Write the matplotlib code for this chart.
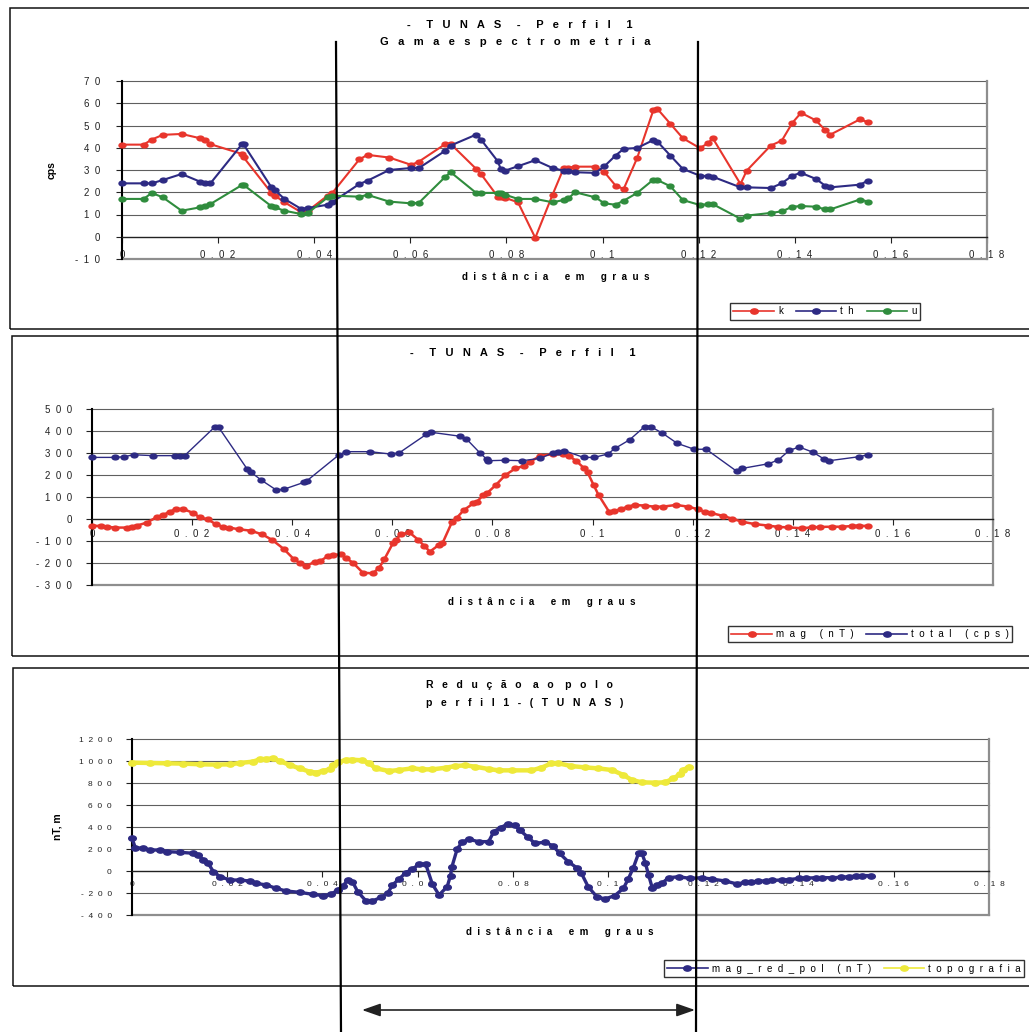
import numpy as np
import matplotlib
matplotlib.use("Agg")
import matplotlib.pyplot as plt
from matplotlib.path import Path
from matplotlib.patches import Rectangle, FancyArrowPatch, ArrowStyle
from matplotlib.lines import Line2D
from matplotlib.ticker import FixedLocator, FuncFormatter

plt.rcParams["font.family"] = ["Liberation Sans", "DejaVu Sans"]

# ---------------- Gamaespectrometria (cps) ----------------
dist_gama = [0.0000, 0.0045, 0.0062, 0.0085, 0.0124, 0.0162, 0.0172, 0.0184, 0.0250, 0.0253,
             0.0311, 0.0318, 0.0338, 0.0373, 0.0387, 0.0428, 0.0437, 0.0494, 0.0511, 0.0556,
             0.0602, 0.0618, 0.0673, 0.0684, 0.0737, 0.0747, 0.0782, 0.0788, 0.0797, 0.0824,
             0.0860, 0.0896, 0.0919, 0.0929, 0.0943, 0.0985, 0.1004, 0.1027, 0.1044, 0.1072,
             0.1106, 0.1114, 0.1141, 0.1167, 0.1202, 0.1220, 0.1229, 0.1287, 0.1300, 0.1350,
             0.1373, 0.1395, 0.1413, 0.1444, 0.1463, 0.1474, 0.1535, 0.1553]
k_cps = [41.4, 41.4, 43.7, 45.8, 46.2, 44.3, 43.7, 41.6, 37.2, 35.7,
         19.7, 18.5, 15.5, 11.0, 11.7, 18.5, 19.5, 34.8, 36.8, 35.6,
         32.3, 33.8, 41.7, 41.7, 30.5, 28.2, 18.0, 17.7, 17.5, 15.5,
         -0.5, 18.9, 30.8, 31.0, 31.5, 31.5, 29.0, 23.0, 21.5, 35.4,
         57.1, 57.5, 50.8, 44.3, 39.9, 42.0, 44.4, 23.7, 29.7, 41.0,
         43.2, 51.2, 55.7, 52.3, 48.0, 45.9, 52.7, 51.5]
th_cps = [24.0, 24.0, 24.0, 25.5, 28.2, 24.8, 24.0, 24.0, 41.7, 41.5,
          22.2, 21.0, 17.0, 12.5, 12.9, 14.4, 15.5, 23.7, 25.2, 30.0,
          30.9, 30.9, 38.7, 41.0, 45.9, 43.7, 33.9, 30.5, 29.7, 31.7,
          34.4, 30.9, 29.7, 29.4, 29.0, 28.7, 31.7, 36.5, 39.5, 39.9,
          43.5, 42.8, 36.5, 30.5, 27.5, 27.2, 27.0, 22.2, 22.2, 21.9,
          24.0, 27.5, 28.7, 26.0, 23.0, 22.2, 23.4, 25.2]
u_cps = [17.0, 17.0, 19.7, 17.7, 11.7, 13.2, 13.7, 14.7, 23.3, 23.3,
         13.7, 13.2, 11.7, 10.2, 10.7, 17.7, 18.5, 18.0, 18.8, 15.8,
         15.0, 15.3, 27.0, 29.0, 19.7, 19.7, 19.7, 19.5, 18.9, 17.0,
         17.0, 15.5, 16.5, 17.3, 20.0, 17.7, 15.0, 14.4, 16.2, 19.7,
         25.7, 25.5, 22.7, 16.5, 14.3, 14.6, 14.7, 8.1, 9.5, 10.7,
         11.4, 13.5, 13.8, 13.5, 12.3, 12.3, 16.7, 15.8]

# ---------------- Magnetometria e contagem total ----------------
dist_total = [0.0000, 0.0046, 0.0064, 0.0083, 0.0122, 0.0165, 0.0175, 0.0185, 0.0246, 0.0253,
              0.0310, 0.0318, 0.0338, 0.0368, 0.0383, 0.0424, 0.0429, 0.0493, 0.0508, 0.0556,
              0.0597, 0.0614, 0.0668, 0.0678, 0.0736, 0.0748, 0.0776, 0.0789, 0.0792, 0.0825,
              0.0860, 0.0896, 0.0920, 0.0930, 0.0943, 0.0982, 0.1003, 0.1030, 0.1045, 0.1074,
              0.1104, 0.1116, 0.1139, 0.1169, 0.1203, 0.1227, 0.1288, 0.1299, 0.1351, 0.1371,
              0.1393, 0.1413, 0.1441, 0.1462, 0.1473, 0.1532, 0.1550]
total_cps = [280, 280, 283, 292, 288, 288, 288, 288, 420, 417,
             227, 212, 177, 132, 135, 167, 173, 291, 306, 306,
             295, 301, 385, 394, 376, 364, 298, 271, 265, 267,
             265, 276, 300, 303, 311, 280, 280, 295, 321, 360,
             420, 420, 391, 344, 317, 317, 217, 230, 251, 268,
             312, 327, 303, 273, 265, 283, 292]

dist_mag = [0.0000, 0.0017, 0.0030, 0.0046, 0.0069, 0.0079, 0.0089, 0.0109, 0.0129, 0.0142,
            0.0155, 0.0168, 0.0182, 0.0201, 0.0215, 0.0231, 0.0248, 0.0261, 0.0274, 0.0294,
            0.0317, 0.0340, 0.0360, 0.0383, 0.0403, 0.0416, 0.0427, 0.0446, 0.0455, 0.0472,
            0.0482, 0.0498, 0.0508, 0.0521, 0.0541, 0.0561, 0.0574, 0.0584, 0.0601, 0.0607,
            0.0617, 0.0634, 0.0652, 0.0663, 0.0675, 0.0693, 0.0700, 0.0719, 0.0729, 0.0743,
            0.0762, 0.0769, 0.0782, 0.0789, 0.0807, 0.0826, 0.0846, 0.0863, 0.0876, 0.0896,
            0.0920, 0.0940, 0.0953, 0.0967, 0.0982, 0.0990, 0.1002, 0.1012, 0.1033, 0.1043,
            0.1057, 0.1070, 0.1084, 0.1104, 0.1124, 0.1140, 0.1167, 0.1191, 0.1211, 0.1224,
            0.1237, 0.1261, 0.1278, 0.1298, 0.1324, 0.1351, 0.1371, 0.1391, 0.1418, 0.1438,
            0.1455, 0.1478, 0.1498, 0.1518, 0.1532, 0.1550]
mag_nT = [-30, -32, -35, -39, -39, -35, -30, -17, 8, 18,
          33, 45, 45, 29, 8, -2, -24, -35, -39, -47,
          -53, -70, -95, -136, -182, -201, -214, -194, -192, -168,
          -164, -161, -179, -198, -244, -247, -221, -183, -111, -95,
          -70, -61, -95, -121, -148, -118, -111, -15, 6, 41,
          71, 79, 109, 117, 155, 200, 230, 241, 261, 288,
          294, 294, 286, 265, 233, 212, 155, 109, 33, 36,
          45, 56, 64, 61, 56, 56, 64, 56, 44, 33,
          27, 14, 2, -12, -23, -30, -36, -38, -42, -38,
          -36, -35, -35, -32, -30, -32]

# ---------------- Redução ao polo e topografia ----------------
dist_topo = [0.0000, 0.0038, 0.0073, 0.0108, 0.0143, 0.0178, 0.0206, 0.0226, 0.0254, 0.0268,
             0.0282, 0.0296, 0.0310, 0.0331, 0.0352, 0.0373, 0.0387, 0.0401, 0.0415, 0.0422,
             0.0432, 0.0449, 0.0463, 0.0484, 0.0498, 0.0512, 0.0540, 0.0561, 0.0589, 0.0610,
             0.0631, 0.0659, 0.0679, 0.0700, 0.0721, 0.0749, 0.0770, 0.0798, 0.0839, 0.0860,
             0.0881, 0.0895, 0.0923, 0.0951, 0.0979, 0.1008, 0.1032, 0.1050, 0.1071, 0.1099,
             0.1120, 0.1137, 0.1151, 0.1158, 0.1169]
topo_m = [985, 982, 979, 976, 970, 967, 970, 982, 994, 1015,
          1018, 1024, 1000, 964, 933, 903, 894, 909, 924, 964,
          988, 1009, 1012, 1006, 979, 933, 909, 918, 933, 924,
          924, 939, 954, 961, 948, 927, 915, 915, 915, 939,
          979, 979, 954, 942, 933, 918, 873, 827, 806, 803,
          806, 842, 879, 918, 945]

dist_rtp = [0.0000, 0.0007, 0.0024, 0.0038, 0.0059, 0.0073, 0.0101, 0.0129, 0.0139, 0.0150,
            0.0160, 0.0171, 0.0185, 0.0206, 0.0226, 0.0247, 0.0261, 0.0282, 0.0303, 0.0324,
            0.0352, 0.0380, 0.0401, 0.0418, 0.0432, 0.0443, 0.0453, 0.0463, 0.0474, 0.0491,
            0.0505, 0.0523, 0.0537, 0.0547, 0.0561, 0.0575, 0.0589, 0.0603, 0.0617, 0.0631,
            0.0645, 0.0662, 0.0669, 0.0672, 0.0683, 0.0693, 0.0707, 0.0728, 0.0749, 0.0760,
            0.0774, 0.0789, 0.0804, 0.0814, 0.0832, 0.0846, 0.0867, 0.0884, 0.0898, 0.0916,
            0.0934, 0.0944, 0.0958, 0.0976, 0.0993, 0.1014, 0.1032, 0.1042, 0.1053, 0.1064,
            0.1071, 0.1078, 0.1085, 0.1093, 0.1102, 0.1113, 0.1127, 0.1148, 0.1172, 0.1197,
            0.1218, 0.1246, 0.1271, 0.1288, 0.1300, 0.1315, 0.1331, 0.1345, 0.1366, 0.1380,
            0.1401, 0.1415, 0.1436, 0.1450, 0.1471, 0.1490, 0.1506, 0.1520, 0.1534, 0.1552]
rtp_nT = [297, 212, 206, 191, 191, 176, 170, 161, 145, 100,
          70, -6, -52, -82, -82, -91, -112, -127, -158, -182,
          -194, -212, -224, -212, -173, -136, -82, -97, -188, -270,
          -273, -239, -203, -127, -73, -15, 18, 61, 61, -121,
          -218, -142, -42, 39, 200, 261, 288, 267, 267, 358,
          394, 427, 418, 373, 306, 252, 261, 230, 161, 85,
          30, -21, -142, -233, -255, -224, -158, -76, 30, 161,
          161, 76, -36, -158, -127, -112, -61, -52, -67, -61,
          -73, -91, -118, -103, -100, -95, -88, -85, -82, -78,
          -67, -65, -61, -60, -61, -57, -52, -47, -42, -42]

x_ticks = [0.0, 0.02, 0.04, 0.06, 0.08, 0.10, 0.12, 0.14, 0.16, 0.18]

RED = "#E8352C"
NAVY = "#2D2A83"
GREEN = "#2F8C3D"
YELLOW = "#EEE93A"
GRID = "#5f5f5f"
FRAME = "#8e8e8e"

W, H = 1029, 1032
fig = plt.figure(figsize=(W / 100, H / 100), dpi=100)
fig.patch.set_facecolor("white")


def fx(px):
    return px / W


def fy(py):
    return 1 - py / H


def spread(s, n=2, m=None):
    """Letter-spaced text: n spaces between letters, m between words."""
    if m is None:
        m = 2 * n + 1
    words = s.split(" ")
    return (" " * m).join((" " * n).join(w) for w in words)


_circ = Path.unit_circle()
oval = Path(_circ.vertices * np.array([1.45, 1.0]), _circ.codes)


def make_axes(l, t, r, b, ylim, ystep, fs, xpad, ypad):
    ax = fig.add_axes([fx(l), fy(b), (r - l) / W, (b - t) / H])
    ax.set_xlim(x_ticks[0], x_ticks[-1])
    ax.set_ylim(*ylim)
    yt = list(range(ylim[0], ylim[1] + 1, ystep))
    ax.xaxis.set_major_locator(FixedLocator(x_ticks))
    ax.yaxis.set_major_locator(FixedLocator(yt))
    fmt = FuncFormatter(lambda v, p: spread(f"{v:g}"))
    ax.xaxis.set_major_formatter(fmt)
    ax.yaxis.set_major_formatter(fmt)
    for y in yt[1:]:
        if y != 0:
            ax.axhline(y, color=GRID, lw=0.8, zorder=0.5, clip_on=False)
    ax.axhline(ylim[0], color=FRAME, lw=1.6, zorder=0.6, clip_on=False)
    ax.spines["top"].set_visible(False)
    ax.spines["right"].set_color(FRAME)
    ax.spines["right"].set_linewidth(1.6)
    ax.spines["left"].set_color("black")
    ax.spines["left"].set_linewidth(1.5)
    ax.spines["bottom"].set_position(("data", 0))
    ax.spines["bottom"].set_color("#222222")
    ax.spines["bottom"].set_linewidth(1.0)
    ax.tick_params(axis="x", direction="out", length=4.5, width=0.8,
                   pad=xpad, labelsize=fs, colors="#222222")
    ax.tick_params(axis="y", direction="out", length=4.5, width=0.8,
                   pad=ypad, labelsize=fs, colors="#222222")
    return ax


def series(ax, x, y, color, lw, ms=5.0):
    ax.plot(x, y, color=color, lw=lw, marker=oval, ms=ms, mec=color,
            mfc=color, zorder=3, clip_on=False)


def legend_at(cx, cy, handles, labels):
    leg = fig.legend(handles, labels, loc="center",
                     bbox_to_anchor=(fx(cx), fy(cy)), ncol=len(labels),
                     frameon=True, fancybox=False, framealpha=1,
                     edgecolor="#333333", fontsize=7, handlelength=4.2,
                     handletextpad=0.4, columnspacing=1.3, borderpad=0.35,
                     numpoints=1)
    leg.get_frame().set_linewidth(1.0)
    return leg


def handle(color, lw=1.2):
    return Line2D([], [], color=color, lw=lw, marker=oval, ms=5.5, mec=color, mfc=color)


def panel_frame(l, t, r, b):
    fig.add_artist(Rectangle((fx(l), fy(b)), (r - l) / W, (b - t) / H,
                             transform=fig.transFigure, fill=False,
                             ec="#111111", lw=1.1, zorder=1))


# panel frames
panel_frame(10, 8, 1045, 329)
panel_frame(12, 336, 1045, 656)
panel_frame(13, 668, 1045, 986)

# ---- panel 1: gamma spectrometry ----
ax1 = make_axes(122, 81, 987, 259, (-10, 70), 10, 7, 5, 11)
series(ax1, dist_gama, k_cps, RED, 1.5)
series(ax1, dist_gama, th_cps, NAVY, 1.5)
series(ax1, dist_gama, u_cps, GREEN, 1.5)
fig.text(fx(520), fy(25), spread("- TUNAS - Perfil 1", 3, 5), fontsize=8,
         fontweight="bold", ha="center", va="center")
fig.text(fx(515), fy(42), spread("Gamaespectrometria", 3), fontsize=8,
         fontweight="bold", ha="center", va="center")
fig.text(fx(52), fy(170), "cps", rotation=90, fontsize=7.5, fontweight="bold",
         ha="center", va="center")
fig.text(fx(556), fy(277), spread("distância em graus", 2, 6), fontsize=7,
         fontweight="bold", ha="center", va="center")
legend_at(825, 311.5, [handle(RED), handle(NAVY), handle(GREEN)],
          [spread("k"), spread("th"), spread("u")])

# ---- panel 2: magnetometry and total count ----
ax2 = make_axes(92, 409, 993, 585, (-300, 500), 100, 7, 3, 10)
series(ax2, dist_mag, mag_nT, RED, 1.8)
series(ax2, dist_total, total_cps, NAVY, 1.0)
fig.text(fx(523), fy(353), spread("- TUNAS - Perfil 1", 3, 5), fontsize=8,
         fontweight="bold", ha="center", va="center")
fig.text(fx(542), fy(602), spread("distância em graus", 2, 6), fontsize=7,
         fontweight="bold", ha="center", va="center")
legend_at(870, 634, [handle(RED), handle(NAVY)],
          [spread("mag (nT)"), spread("total (cps)")])

# ---- panel 3: reduction to the pole and topography ----
ax3 = make_axes(132, 739, 989, 915, (-400, 1200), 200, 6, 2.5, 10)
series(ax3, dist_topo, topo_m, YELLOW, 3.2, ms=5.5)
series(ax3, dist_rtp, rtp_nT, NAVY, 2.4, ms=5.5)
fig.text(fx(426), fy(685), spread("Redução ao polo", 3, 4), fontsize=7.5,
         fontweight="bold", ha="left", va="center")
fig.text(fx(426), fy(703), spread("perfil 1 - (TUNAS)", 3, 3), fontsize=7.5,
         fontweight="bold", ha="left", va="center")
fig.text(fx(57), fy(827), "nT, m", rotation=90, fontsize=7.5, fontweight="bold",
         ha="center", va="center")
fig.text(fx(560), fy(932), spread("distância em graus", 2, 6), fontsize=7,
         fontweight="bold", ha="center", va="center")
legend_at(844, 968.5, [handle(NAVY), handle(YELLOW)],
          [spread("mag_red_pol (nT)"), spread("topografia")])

# section markers spanning all panels
fig.add_artist(Line2D([fx(336), fx(341)], [fy(42), fy(1034)],
                      transform=fig.transFigure, color="black", lw=1.6, zorder=20))
fig.add_artist(Line2D([fx(698), fx(696)], [fy(42), fy(1034)],
                      transform=fig.transFigure, color="black", lw=1.6, zorder=20))
fig.add_artist(FancyArrowPatch((fx(362), fy(1010)), (fx(695), fy(1010)),
                               transform=fig.transFigure,
                               arrowstyle=ArrowStyle("<|-|>", head_length=0.8, head_width=0.28),
                               mutation_scale=14, color="#222222", lw=1.2,
                               shrinkA=0, shrinkB=0, zorder=20))

fig.savefig("out.png", dpi=100, facecolor="white")
